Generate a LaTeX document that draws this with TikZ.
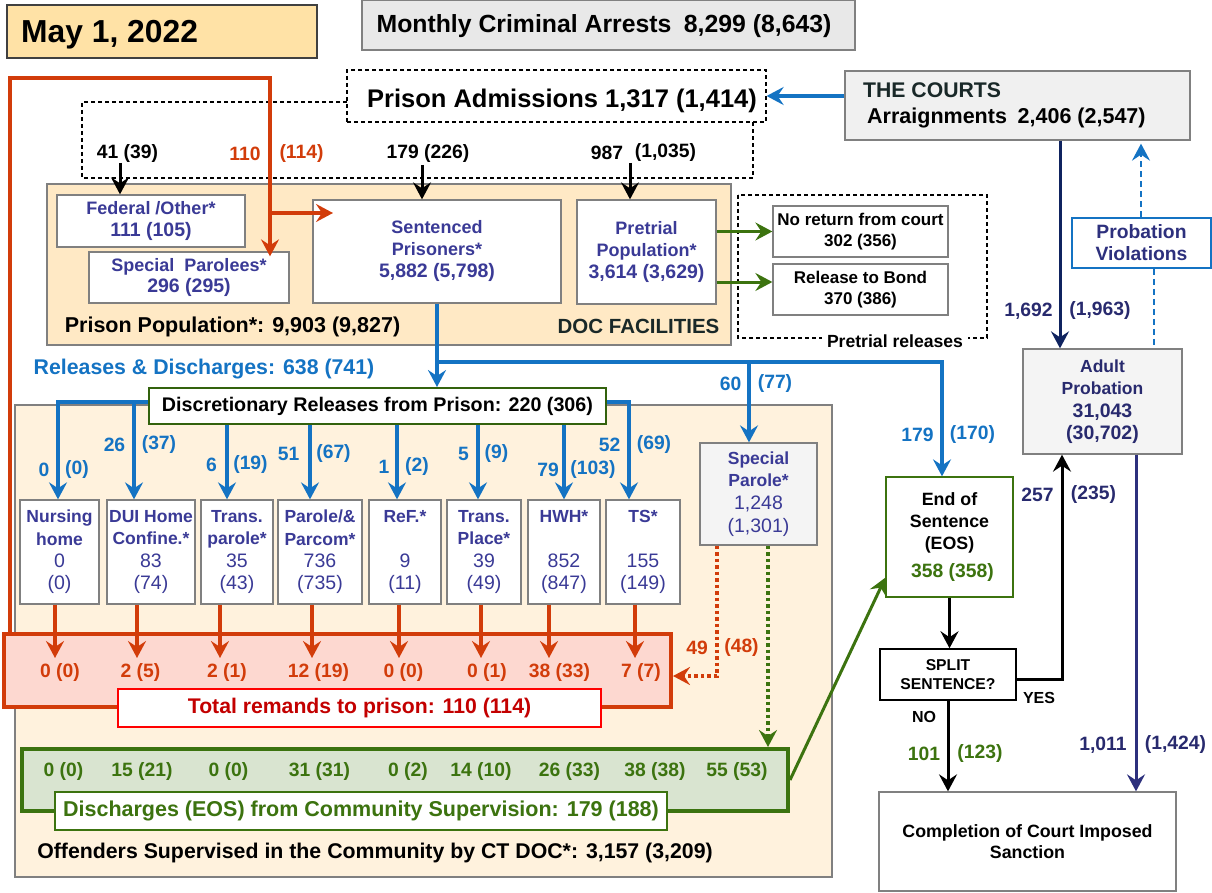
\documentclass[tikz,border=0pt]{standalone}
\usepackage{fontspec}
\setmainfont{Liberation Sans}
\usetikzlibrary{arrows.meta}
\definecolor{dateF}{RGB}{255,226,166}
\definecolor{docF}{RGB}{255,233,197}
\definecolor{comF}{RGB}{255,242,221}
\definecolor{grayF}{RGB}{232,232,232}
\definecolor{crtF}{RGB}{240,240,240}
\definecolor{lgF}{RGB}{244,244,244}
\definecolor{bord}{RGB}{128,128,128}
\definecolor{pur}{RGB}{58,58,150}
\definecolor{navy}{RGB}{40,42,110}
\definecolor{navyD}{RGB}{15,35,95}
\definecolor{navyP}{RGB}{45,48,125}
\definecolor{bl}{RGB}{20,115,195}
\definecolor{rd}{RGB}{210,60,10}
\definecolor{rdT}{RGB}{195,0,0}
\definecolor{pinkF}{RGB}{253,216,208}
\definecolor{gr}{RGB}{60,115,15}
\definecolor{grF}{RGB}{217,228,208}
\definecolor{dk}{RGB}{25,40,40}
\newcommand\fs[2]{\fontsize{#1}{#2}\selectfont}
\newcommand\tf{\bfseries\fs{17.5}{21.5}}
\newcommand\nf{\mdseries\fs{19.5}{23}}
\tikzset{
  box/.style={draw=bord, line width=1.3pt, fill=white, inner sep=0pt},
  lbl/.style={inner sep=0pt, font=\bfseries\fs{19.3}{22}},
  tipB/.style={-{Stealth[length=17pt,width=18pt,inset=6pt]}},
  bluearr/.style={draw=bl, line width=3.7pt, tipB},
  blkarr/.style={draw=black, line width=3pt, tipB},
  redline/.style={draw=rd, line width=4pt},
  redarr/.style={draw=rd, line width=3.5pt, tipB},
  grarr/.style={draw=gr, line width=3pt, tipB},
  reddot/.style={draw=rd, line width=3.5pt, dash pattern=on 3.5pt off 3pt, tipB},
  grdot/.style={draw=gr, line width=3.5pt, dash pattern=on 3.5pt off 3pt, tipB},
  navyarr/.style={draw=navyD, line width=3pt, tipB},
  navyarrP/.style={draw=navyP, line width=3pt, tipB},
  bldash/.style={draw=bl, line width=2.5pt, dash pattern=on 6pt off 4pt},
  thindash/.style={draw=black, line width=1.2pt, dash pattern=on 4pt off 3pt},
}
\newcommand\smallbx[7]{\node[box, minimum width=#3pt, minimum height=104pt, align=center, text=pur, font=\fs{17.5}{22.3}] (#1) at (#2,552) {{\tf #4}\\{\tf #5}\\{\nf #6}\\{\nf #7}};}
\begin{document}
\begin{tikzpicture}[x=1pt,y=-1pt]
\useasboundingbox (0,0) rectangle (1212,893);

% ---------- background areas ----------
\node[box, fill=docF, minimum width=684pt, minimum height=161pt] (doc) at (389,264.5) {};
\node[box, fill=comF, minimum width=817pt, minimum height=472pt] (comm) at (423.5,641) {};

% ---------- top ----------
\node[box, draw=black!75, fill=dateF, minimum width=310pt, minimum height=53pt] (date) at (162,31.5) {};
\node[anchor=base west, inner sep=0pt, font=\bfseries\fs{31.8}{36}] (datet) at (21,43) {May 1, 2022};
\node[box, fill=grayF, minimum width=493pt, minimum height=50pt] (arrests) at (608.5,25) {};
\node[lbl, font=\bfseries\fs{24.8}{28}] (arrestst) at (604,26) {Monthly Criminal Arrests\hspace{0.5em}8,299 (8,643)};

\node[box, draw=black, line width=1.2pt, dash pattern=on 4pt off 3pt, fill=white, minimum width=419pt, minimum height=52pt] (adm) at (556.5,96) {};
\node[lbl, font=\bfseries\fs{25.5}{29}] (admt) at (562,101) {Prison Admissions 1,317 (1,414)};
\draw[thindash] (347,102) -- (82,102) -- (82,178) -- (753,178) -- (753,122);

\node[box, fill=crtF, minimum width=345pt, minimum height=69pt] (courts) at (1017.5,105.5) {};
\node[anchor=west, inner sep=0pt, text=dk, font=\bfseries\fs{21.2}{24}] (courtsa) at (863,90) {THE COURTS};
\node[anchor=west, inner sep=0pt, font=\bfseries\fs{21.5}{24}] (courtsb) at (867,118) {Arraignments\hspace{0.5em}2,406 (2,547)};

% ---------- DOC facilities ----------
\node[box, minimum width=188pt, minimum height=52pt, align=center, text=pur, font=\fs{18}{22}] (fed) at (151,221) {{\bfseries\fs{18}{22}Federal /Other*}\\{\bfseries\fs{19.5}{22}111 (105)}};
\node[box, minimum width=200pt, minimum height=51pt, align=center, text=pur, font=\fs{18}{21}] (spar) at (189,277.5) {{\bfseries\fs{18}{21}Special\ \ Parolees*}\\{\bfseries\fs{19.5}{21}296 (295)}};
\node[box, minimum width=248pt, minimum height=103pt, align=center, text=pur, font=\fs{18}{22}] (sent) at (437,251.5) {{\bfseries\fs{18}{22}Sentenced}\\{\bfseries\fs{18}{22}Prisoners*}\\{\bfseries\fs{19.5}{22}5,882 (5,798)}};
\node[box, minimum width=139pt, minimum height=104pt, align=center, text=pur, font=\fs{18}{22}] (pre) at (646.5,252) {{\bfseries\fs{18}{22}Pretrial}\\{\bfseries\fs{18}{22}Population*}\\{\bfseries\fs{19.5}{22}3,614 (3,629)}};
\node[lbl, font=\bfseries\fs{21.5}{24}] (poplbl) at (232.5,327) {Prison Population*: 9,903 (9,827)};
\node[lbl, text=dk, font=\bfseries\fs{20.5}{24}] (doclbl) at (638.5,326) {DOC FACILITIES};

% pretrial releases
\draw[thindash] (738,195) rectangle (987,338);
\node[box, minimum width=175pt, minimum height=51pt, align=center, font=\bfseries\fs{17}{20.5}] (noret) at (860.5,231.5) {No return from court\\302 (356)};
\node[box, minimum width=175pt, minimum height=51pt, align=center, font=\bfseries\fs{17}{20.5}] (bond) at (860.5,289.5) {Release to Bond\\370 (386)};
\node[fill=white, inner xsep=5pt, inner ysep=2pt, font=\bfseries\fs{17.6}{20}] (prerel) at (895,341) {Pretrial releases};

% ---------- courts side ----------
\node[box, draw=bl, line width=1.5pt, minimum width=139pt, minimum height=50pt, align=center, text=navyP, font=\bfseries\fs{19.3}{22}] (pv) at (1141.5,243) {Probation\\Violations};
\node[box, fill=lgF, minimum width=159pt, minimum height=105pt, align=center, text=navy, font=\fs{17.5}{22.5}] (ap) at (1102.5,401.5) {{\bfseries\fs{17.5}{22.5}Adult}\\{\bfseries\fs{17.5}{22.5}Probation}\\{\bfseries\fs{19.5}{22.5}31,043}\\{\bfseries\fs{19.5}{22.5}(30,702)}};
\node[box, draw=gr, line width=1.3pt, minimum width=127pt, minimum height=120pt, align=center, font=\fs{17.8}{22}] (eos) at (949.5,537) {{\bfseries\fs{17.8}{22}End of}\\{\bfseries\fs{17.8}{22}Sentence}\\{\bfseries\fs{17.8}{22}(EOS)}\\[6pt]{\bfseries\fs{19.3}{22}\color{gr}\hspace{6pt}358 (358)}};
\node[box, draw=black, line width=1.5pt, minimum width=136pt, minimum height=51pt, align=center, font=\bfseries\fs{15.7}{18.5}] (split) at (948,674.5) {SPLIT\\SENTENCE?};
\node[box, minimum width=297pt, minimum height=99pt, align=center, font=\bfseries\fs{17.8}{21.5}] (comp) at (1027.5,841.5) {Completion of Court Imposed\\Sanction};

% ---------- community ----------
\node[box, draw=gr!85!black, line width=2pt, minimum width=457pt, minimum height=36pt, font=\bfseries\fs{19.7}{22}] (disc) at (377.5,406) {Discretionary Releases from Prison: 220 (306)};
\smallbx{nh}{59.5}{79}{Nursing}{home}{0}{(0)}
\smallbx{dui}{151}{88}{DUI Home}{Confine.*}{83}{(74)}
\smallbx{tp}{237}{72}{Trans.}{parole*}{35}{(43)}
\smallbx{par}{320}{84}{Parole/\&}{Parcom*}{736}{(735)}
\smallbx{ref}{405}{72}{ReF.*}{\strut}{9}{(11)}
\smallbx{tpl}{484}{74}{Trans.}{Place*}{39}{(49)}
\smallbx{hwh}{564}{72}{HWH*}{\strut}{852}{(847)}
\smallbx{ts}{643}{74}{TS*}{\strut}{155}{(149)}
\node[box, fill=lgF, minimum width=117pt, minimum height=102pt, align=center, text=pur, font=\fs{17.5}{22.7}] (sp) at (758.5,494) {{\tf Special}\\{\tf Parole*}\\{\nf 1,248}\\{\nf (1,301)}};

\node[draw=rd, line width=4pt, fill=pinkF, inner sep=0pt, minimum width=667pt, minimum height=73pt] (remand) at (337.5,670.5) {};
\node[draw=red, line width=2pt, fill=white, inner sep=0pt, minimum width=483pt, minimum height=38pt, text=rdT, font=\bfseries\fs{21.2}{24}] (tot) at (359.5,708) {Total remands to prison: 110 (114)};
\node[draw=gr, line width=4pt, fill=grF, inner sep=0pt, minimum width=766pt, minimum height=62pt] (grn) at (405,780) {};
\node[draw=gr, line width=2pt, fill=white, inner sep=0pt, minimum width=612pt, minimum height=38pt, text=gr, font=\bfseries\fs{21.5}{24}] (dis) at (361,811) {Discharges (EOS) from Community Supervision: 179 (188)};
\node[lbl, font=\bfseries\fs{21.3}{24}] (offl) at (375,853) {Offenders Supervised in the Community by CT DOC*: 3,157 (3,209)};
\node[lbl, text=bl, font=\bfseries\fs{21.3}{24}] (rell) at (204,369) {Releases \& Discharges: 638 (741)};

% ---------- connectors ----------
\draw[bluearr] (courts.west |- adm.east) -- (adm.east);
\coordinate (a1) at (120,163);
\draw[blkarr] (a1) -- (a1 |- fed.north);
\coordinate (a3) at (422,165);
\draw[blkarr] (a3) -- (a3 |- sent.north);
\coordinate (a4) at (630,163);
\draw[blkarr] (a4) -- (a4 |- pre.north);

\coordinate (rl) at (10,78);
\coordinate (rr) at (270,78);
\coordinate (rb) at (270,213);
\coordinate (rtip) at (333,213);
\draw[redline, tipB] (remand.north west -| rl) -- (rl) -- (rr) -- ([yshift=-5pt]rr |- spar.north);
\draw[redarr] (rb) -- (rtip);

\coordinate (g2) at (716,282);
\draw[grarr] (pre.east |- noret.west) -- (noret.west);
\draw[grarr] (pre.east |- g2) -- (g2 -| bond.west);

\coordinate (j1) at (437,362);
\coordinate (j2) at (942,362);
\coordinate (j3) at (749,362);
\draw[bluearr] (sent.south) -- (sent.south |- disc.north);
\draw[bluearr] (j1) -- (j2) -- (j2 |- eos.north);
\draw[bluearr] (j3) -- (j3 |- sp.north);

\coordinate (d0) at (58,402);
\draw[bluearr] (disc.west |- d0) -- (d0) -- (d0 |- nh.north);
\coordinate (d1) at (134,402);
\draw[bluearr] (d1) -- (d1 |- dui.north);
\foreach \x/\t in {227/tp,310/par,397/ref,478/tpl,564/hwh} {
  \coordinate (dx\t) at (\x,402);
  \draw[bluearr] (dx\t |- disc.south) -- (dx\t |- \t.north);
}
\coordinate (d7) at (629,402);
\draw[bluearr] (disc.east |- d7) -- (d7) -- (d7 |- ts.north);

\foreach \x/\t in {55/nh,137/dui,220/tp,312/par,399/ref,481/tpl,549/hwh,635/ts} {
  \coordinate (rx\t) at (\x,658);
  \draw[redarr] (rx\t |- \t.south) -- (rx\t);
}

\coordinate (rd1) at (717,676);
\draw[reddot] (rd1 |- sp.south) -- (rd1) -- (rd1 -| remand.east);
\coordinate (gd) at (768,700);
\draw[grdot] (gd |- sp.south) -- (gd |- grn.north);
\draw[grarr] (grn.east) -- ([yshift=20pt]eos.south west);

\draw[blkarr] (eos.south) -- (eos.south |- split.north);
\draw[blkarr] (split.south) -- (split.south |- comp.north);
\coordinate (yes) at (1062,679);
\draw[blkarr] (split.east |- yes) -- (yes) -- (yes |- ap.south);

\coordinate (c1) at (1060,200);
\draw[navyarr] (c1 |- courts.south) -- (c1 |- ap.north);
\coordinate (c2) at (1136,600);
\draw[navyarrP] (c2 |- ap.south) -- (c2 |- comp.north);
\coordinate (p1) at (1141,200);
\draw[bldash, tipB] (p1 |- pv.north) -- ([yshift=-3pt]p1 |- courts.south);
\coordinate (p2) at (1154,300);
\draw[bldash] (p2 |- pv.south) -- (p2 |- ap.north);

% ---------- labels ----------
\node[lbl] (l41) at (127.5,154) {41 (39)};
\node[lbl, text=rd] (l110) at (245,154) {110};
\node[lbl, text=rd] (l114) at (301.5,154) {(114)};
\node[lbl] (l179) at (428,154) {179 (226)};
\node[lbl] (l987) at (607,153) {987};
\node[lbl] (l1035) at (665.5,153) {(1,035)};

\node[lbl, text=bl] at (44,470) {0};
\node[lbl, text=bl] at (77,470) {(0)};
\node[lbl, text=bl] at (114.5,445) {26};
\node[lbl, text=bl] at (159,445) {(37)};
\node[lbl, text=bl] at (211.5,465) {6};
\node[lbl, text=bl] at (250.5,465) {(19)};
\node[lbl, text=bl] at (288.5,454) {51};
\node[lbl, text=bl] at (333.5,454) {(67)};
\node[lbl, text=bl] at (384,467) {1};
\node[lbl, text=bl] at (417,467) {(2)};
\node[lbl, text=bl] at (463.5,454) {5};
\node[lbl, text=bl] at (496.5,454) {(9)};
\node[lbl, text=bl] at (548,470) {79};
\node[lbl, text=bl] at (593,470) {(103)};
\node[lbl, text=bl] at (609.5,445) {52};
\node[lbl, text=bl] at (654,445) {(69)};
\node[lbl, text=bl] at (730.5,384) {60};
\node[lbl, text=bl] at (775,384) {(77)};
\node[lbl, text=bl] at (917.5,435) {179};
\node[lbl, text=bl] at (972.5,435) {(170)};

\foreach \x/\s in {60/0 (0),140.5/2 (5),227/2 (1),318.5/12 (19),403.5/0 (0),487/0 (1),559.5/38 (33),641/7 (7)} {
  \node[lbl, text=rd] at (\x,673) {\s};
}
\node[lbl, text=rd] at (697,648) {49};
\node[lbl, text=rd] at (741.5,648) {(48)};

\foreach \x/\s in {63.5/0 (0),142/15 (21),228.5/0 (0),319.5/31 (31),408/0 (2),481/14 (10),569.5/26 (33),655/38 (38),737/55 (53)} {
  \node[lbl, text=gr] at (\x,772) {\s};
}

\node[lbl, text=navy] at (1028.5,311) {1,692};
\node[lbl, text=navy] at (1100,311) {(1,963)};
\node[lbl, text=navy] at (1037.5,495) {257};
\node[lbl, text=navy] at (1093.5,495) {(235)};
\node[lbl, text=navy] at (1103,745) {1,011};
\node[lbl, text=navy] at (1175.5,745) {(1,424)};
\node[lbl, text=gr] at (924,754) {101};
\node[lbl, text=gr] at (980,754) {(123)};
\node[lbl, font=\bfseries\fs{16}{18}] (yesl) at (1039,698) {YES};
\node[lbl, font=\bfseries\fs{16}{18}] (nol) at (924,717) {NO};
\end{tikzpicture}
\end{document}
